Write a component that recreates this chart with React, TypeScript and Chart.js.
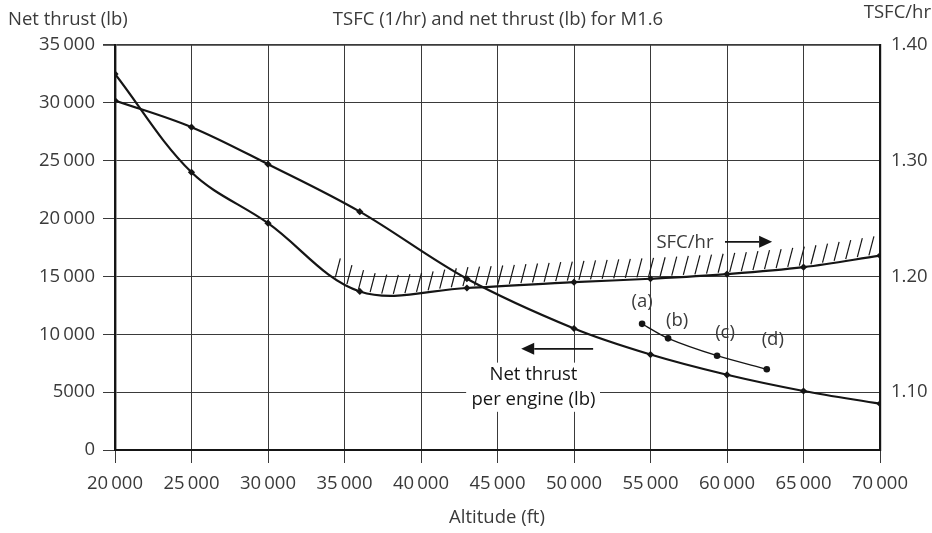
import React, { useEffect, useRef } from 'react';
import { Chart, registerables } from 'chart.js';

Chart.register(...registerables);

// ---- data ----
const altitudeTicks = [20000, 25000, 30000, 35000, 40000, 45000, 50000, 55000, 60000, 65000, 70000];
const thrustTicks = [0, 5000, 10000, 15000, 20000, 25000, 30000, 35000];
const tsfcTicks = [1.1, 1.2, 1.3, 1.4];

const thrustAltitudes = [20000, 25000, 30000, 36000, 43000, 50000, 55000, 60000, 65000, 70000];
const netThrust = [30200, 27900, 24700, 20600, 14800, 10500, 8250, 6500, 5100, 4000];

const sfcAltitudes = [20000, 25000, 30000, 36000, 43000, 50000, 55000, 60000, 65000, 70000];
const tsfc = [1.375, 1.29, 1.246, 1.187, 1.19, 1.195, 1.198, 1.202, 1.208, 1.218];

const caseAltitudes = [54450, 56150, 59350, 62600];
const caseThrust = [10900, 9650, 8150, 6980];
const caseLabels = ['(a)', '(b)', '(c)', '(d)'];

const chartTitle = 'TSFC (1/hr) and net thrust (lb) for M1.6';
const leftAxisTitle = 'Net thrust (lb)';
const rightAxisTitle = 'TSFC/hr';
const xAxisTitle = 'Altitude (ft)';
const sfcLabel = 'SFC/hr';
const thrustLabelLines = ['Net thrust', 'per engine (lb)'];

// ---- styling ----
const FONT = "'Open Sans', 'Liberation Sans', Arial, sans-serif";
const FS = 18.5;
const TXT = '#3a3a3a';
const INK = '#151515';
const GRID = '#3a3a3a';

const fmt = (v: number) => {
  if (v >= 10000) {
    const s = String(Math.round(v));
    return s.slice(0, s.length - 3) + '\u2009' + s.slice(-3);
  }
  return String(v);
};

function arrow(ctx: CanvasRenderingContext2D, x0: number, x1: number, y: number) {
  // x1 = tip
  const dir = Math.sign(x1 - x0);
  const headL = 13;
  const headH = 6;
  ctx.beginPath();
  ctx.moveTo(x0, y);
  ctx.lineTo(x1 - dir * headL, y);
  ctx.strokeStyle = INK;
  ctx.lineWidth = 1.6;
  ctx.stroke();
  ctx.beginPath();
  ctx.moveTo(x1, y);
  ctx.lineTo(x1 - dir * headL, y - headH);
  ctx.lineTo(x1 - dir * headL, y + headH);
  ctx.closePath();
  ctx.fillStyle = INK;
  ctx.fill();
}

const annotations = {
  id: 'annotations',
  beforeDatasetsDraw(chart: any) {
    const { ctx } = chart;
    const xs = chart.scales.x;
    const ys = chart.scales.y;
    // white background behind the net-thrust label
    const bx0 = xs.getPixelForValue(42950);
    const bx1 = xs.getPixelForValue(51700);
    const by0 = ys.getPixelForValue(7550);
    const by1 = ys.getPixelForValue(3300);
    ctx.save();
    ctx.fillStyle = '#fff';
    ctx.fillRect(bx0, by0, bx1 - bx0, by1 - by0);
    ctx.restore();
  },
  afterDatasetsDraw(chart: any) {
    const { ctx } = chart;
    const xs = chart.scales.x;
    const ys = chart.scales.y;
    const area = chart.chartArea;
    ctx.save();

    // hatching above SFC curve, following the drawn bezier
    const pts = chart.getDatasetMeta(1).data;
    const curveY = (X: number) => {
      for (let i = 0; i < pts.length - 1; i++) {
        const p0 = pts[i], p1 = pts[i + 1];
        if (X >= p0.x && X <= p1.x) {
          const c1x = p0.cp2x ?? p0.x, c1y = p0.cp2y ?? p0.y;
          const c2x = p1.cp1x ?? p1.x, c2y = p1.cp1y ?? p1.y;
          let lo = 0, hi = 1;
          const bx = (t: number) => {
            const u = 1 - t;
            return u * u * u * p0.x + 3 * u * u * t * c1x + 3 * u * t * t * c2x + t * t * t * p1.x;
          };
          for (let k = 0; k < 40; k++) {
            const m = (lo + hi) / 2;
            if (bx(m) < X) lo = m; else hi = m;
          }
          const t = (lo + hi) / 2, u = 1 - t;
          return u * u * u * p0.y + 3 * u * u * t * c1y + 3 * u * t * t * c2y + t * t * t * p1.y;
        }
      }
      return pts[pts.length - 1].y;
    };
    ctx.strokeStyle = INK;
    ctx.lineWidth = 1.2;
    const hx0 = xs.getPixelForValue(34400);
    const step = 11.6;
    for (let X = hx0; X <= area.right - 6; X += step) {
      const yc = curveY(X);
      ctx.beginPath();
      ctx.moveTo(X, yc - 2);
      ctx.lineTo(X + 5, yc - 21);
      ctx.stroke();
    }

    // text annotations
    ctx.fillStyle = TXT;
    ctx.font = `${FS}px ${FONT}`;
    ctx.textAlign = 'center';
    ctx.textBaseline = 'middle';

    // case labels
    const caseOffsets = [[0, -22], [9, -18], [8, -23], [6, -29]];
    caseLabels.forEach((lab, i) => {
      const px = xs.getPixelForValue(caseAltitudes[i]) + caseOffsets[i][0];
      const py = ys.getPixelForValue(caseThrust[i]) + caseOffsets[i][1];
      ctx.fillText(lab, px, py);
    });

    // SFC label + arrow
    ctx.fillText(sfcLabel, xs.getPixelForValue(57250), ys.getPixelForValue(17900));
    arrow(ctx, xs.getPixelForValue(59870), xs.getPixelForValue(62950), ys.getPixelForValue(17990));

    // Net thrust label + arrow
    const lx = xs.getPixelForValue(47350);
    ctx.fillText(thrustLabelLines[0], lx, ys.getPixelForValue(6490));
    ctx.fillText(thrustLabelLines[1], lx, ys.getPixelForValue(4330));
    arrow(ctx, xs.getPixelForValue(51250), xs.getPixelForValue(46550), ys.getPixelForValue(8740));

    ctx.restore();
  },
  afterDraw(chart: any) {
    const { ctx } = chart;
    ctx.save();
    ctx.fillStyle = TXT;
    ctx.font = `${FS}px ${FONT}`;
    ctx.textBaseline = 'middle';
    ctx.textAlign = 'left';
    ctx.fillText(leftAxisTitle, 8, 20);
    ctx.textAlign = 'center';
    ctx.fillText(chartTitle, 498, 20);
    ctx.fillText(xAxisTitle, 497, 518);
    ctx.textAlign = 'right';
    ctx.fillText(rightAxisTitle, 931, 13);
    ctx.restore();
  },
};

export default function App() {
  const ref = useRef<HTMLCanvasElement>(null);

  useEffect(() => {
    if (!ref.current) return;
    const tickFont = { family: FONT, size: FS };
    const chart = new Chart(ref.current, {
      type: 'line',
      data: {
        datasets: [
          {
            label: 'Net thrust per engine (lb)',
            data: thrustAltitudes.map((a, i) => ({ x: a, y: netThrust[i] })),
            yAxisID: 'y',
            borderColor: INK,
            backgroundColor: INK,
            borderWidth: 2.2,
            tension: 0.35,
            pointStyle: 'rectRot',
            pointRadius: 3.6,
            pointBackgroundColor: INK,
            pointBorderWidth: 0,
          },
          {
            label: 'SFC/hr',
            data: sfcAltitudes.map((a, i) => ({ x: a, y: tsfc[i] })),
            yAxisID: 'y1',
            borderColor: INK,
            backgroundColor: INK,
            borderWidth: 2.2,
            tension: 0.35,
            pointStyle: 'rectRot',
            pointRadius: 3.6,
            pointBackgroundColor: INK,
            pointBorderWidth: 0,
          },
          {
            label: 'Cases',
            data: caseAltitudes.map((a, i) => ({ x: a, y: caseThrust[i] })),
            yAxisID: 'y',
            borderColor: INK,
            backgroundColor: INK,
            borderWidth: 1.3,
            tension: 0.3,
            pointStyle: 'circle',
            pointRadius: 3.3,
            pointBackgroundColor: INK,
            pointBorderWidth: 0,
          },
        ],
      },
      options: {
        responsive: false,
        animation: false,
        devicePixelRatio: 1,
        layout: { padding: { top: 45, left: 0, right: 0, bottom: 0 } },
        plugins: {
          legend: { display: false },
          title: { display: false },
          tooltip: { enabled: false },
        },
        events: [],
        scales: {
          x: {
            type: 'linear',
            min: 20000,
            max: 70000,
            afterBuildTicks: (s: any) => { s.ticks = altitudeTicks.map((v) => ({ value: v })); },
            afterFit: (s: any) => { s.height = 83; },
            grid: { color: GRID, lineWidth: 1, tickLength: 13, tickColor: GRID, drawTicks: true },
            border: { color: INK, width: 2 },
            ticks: {
              color: TXT,
              font: tickFont,
              padding: 10,
              maxRotation: 0,
              autoSkip: false,
              callback: (v: any) => fmt(Number(v)),
            },
          },
          y: {
            type: 'linear',
            position: 'left',
            min: 0,
            max: 35000,
            afterBuildTicks: (s: any) => { s.ticks = thrustTicks.map((v) => ({ value: v })); },
            afterFit: (s: any) => { s.width = 115; },
            grid: {
              color: GRID,
              lineWidth: (c: any) => (c.tick && c.tick.value === 35000 ? 1.8 : 1),
              tickLength: 12,
              tickColor: GRID,
            },
            border: { color: INK, width: 2.4 },
            ticks: {
              color: TXT,
              font: tickFont,
              padding: 8,
              autoSkip: false,
              callback: (v: any) => fmt(Number(v)),
            },
          },
          y1: {
            type: 'linear',
            position: 'right',
            min: 1.05,
            max: 1.4,
            afterBuildTicks: (s: any) => { s.ticks = tsfcTicks.map((v) => ({ value: v })); },
            afterFit: (s: any) => { s.width = 52; },
            grid: { drawOnChartArea: false, drawTicks: false },
            border: { color: INK, width: 2.2 },
            ticks: {
              color: TXT,
              font: tickFont,
              padding: 11,
              autoSkip: false,
              callback: (v: any) => Number(v).toFixed(2),
            },
          },
        },
      },
      plugins: [annotations],
    });
    return () => chart.destroy();
  }, []);

  return (
    <div style={{ position: 'absolute', left: 0, top: 0, width: 932, height: 533, background: '#fff' }}>
      <canvas ref={ref} width={932} height={533} style={{ display: 'block', width: 932, height: 533 }} />
    </div>
  );
}
